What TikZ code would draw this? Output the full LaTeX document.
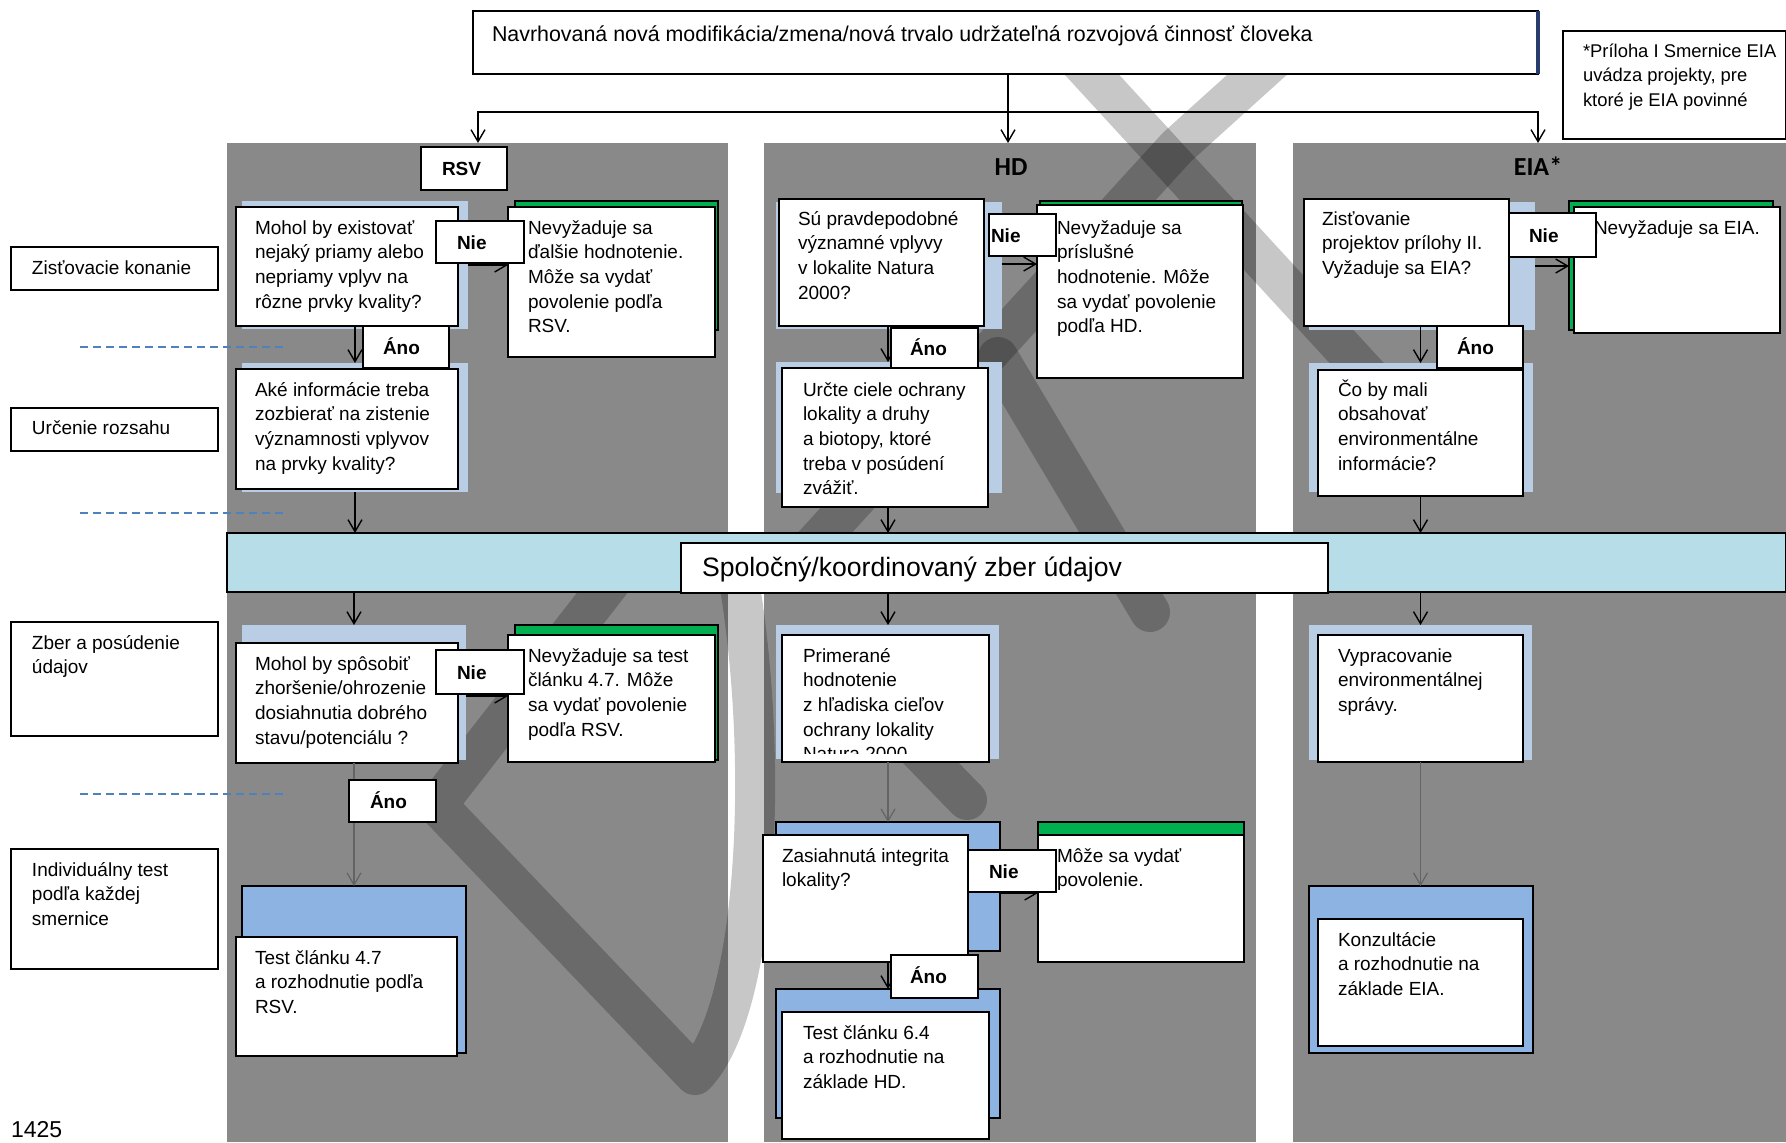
\documentclass[tikz,border=0pt]{standalone}
\usepackage{fontspec}
\setmainfont{Liberation Sans}
\newfontfamily\headfont{Carlito}
\usetikzlibrary{arrows.meta,fit,calc}

\definecolor{panelgray}{RGB}{137,137,137}
\definecolor{paleblue}{RGB}{185,205,229}
\definecolor{midblue}{RGB}{141,179,226}
\definecolor{okgreen}{RGB}{0,176,80}
\definecolor{bandcyan}{RGB}{183,222,232}
\definecolor{guideblue}{RGB}{79,129,189}
\definecolor{flowgray}{RGB}{100,100,100}
\definecolor{edgeblue}{RGB}{40,60,110}

% multi-line text whose baseline is the first line
\newcommand\lines[1]{\begin{tabular}[t]{@{}l@{}}#1\end{tabular}}
% rectangle spanning two corners (pixel units)
\newcommand\area[4]{\node[#1, fit={#3 #4}] (#2) {};}

\begin{document}
\begin{tikzpicture}[x=0.5pt,y=-0.5pt,
  every node/.style={inner sep=0pt, outer sep=0pt},
  panel/.style={rectangle, fill=panelgray, draw=none},
  wbox/.style={rectangle, fill=white, draw=black, line width=1pt},
  palebg/.style={rectangle, fill=paleblue, draw=none},
  bluebg/.style={rectangle, fill=midblue, draw=black, line width=1.4pt},
  greenbg/.style={rectangle, fill=okgreen, draw=black, line width=1pt},
  bandbox/.style={rectangle, fill=bandcyan, draw=black, line width=1pt},
  txt/.style={font=\fontsize{9.5}{12.35}\selectfont},
  btxt/.style={font=\bfseries\fontsize{9.5}{12.35}\selectfont},
  htxt/.style={font=\headfont\bfseries\fontsize{13}{15}\selectfont},
  arr/.style={draw=black, line width=0.7pt, -{Straight Barb[length=6pt,width=7pt]}},
  garr/.style={draw=flowgray, line width=0.6pt, -{Straight Barb[length=6pt,width=7pt]}},
  guide/.style={draw=guideblue, line width=0.9pt, dash pattern=on 4pt off 2.5pt},
  stampline/.style={draw=black, draw opacity=0.22, line width=20pt, line cap=round, line join=round}
]
\useasboundingbox (0,0) rectangle (1786,1142);
\fill[white] (0,0) rectangle (1786,1142);

% ---- directive columns ----
\area{panel}{prsv}{(227,143)}{(728,1142)}
\area{panel}{phd}{(764,143)}{(1256,1142)}
\area{panel}{peia}{(1293,143)}{(1786,1142)}

% ---- translucent watermark strokes behind the flow ----
\draw[stampline] (620,570) -- (437,805) -- (695,1075)
  .. controls (758,1010) and (770,760) .. (738,575);
\draw[stampline] (1060,40) -- (1386,395);
\draw[stampline] (1290,45) -- (1177,147) -- (800,560);
\draw[stampline] (998,357) -- (1150,612);
\draw[stampline] (850,680) -- (967,800);

% ---- shared data collection band ----
\area{bandbox}{band}{(227,533)}{(1786,592)}
\area{wbox}{bandlbl}{(681,543)}{(1328,593)}
\node[anchor=base west, font=\fontsize{13.3}{16}\selectfont] (bandlbl-t) at (702,576) {Spoločný/koordinovaný zber údajov};

% ---- proposal box ----
\area{wbox}{title}{(473,11)}{(1538,74)}
\draw[edgeblue, line width=1.6pt] (title.north east) -- (title.south east);
\node[anchor=base west, font=\fontsize{10.7}{13}\selectfont] (title-t) at (492,41) {Navrhovaná nová modifikácia/zmena/nová trvalo udržateľná rozvojová činnosť človeka};

% ---- footnote ----
\area{wbox}{note}{(1563,31)}{(1786,139)}
\node[anchor=base west, font=\fontsize{9.2}{12.35}\selectfont] (note-t) at (1583,57) {\lines{*Príloha I Smernice EIA\\uvádza projekty, pre\\ktoré je EIA povinné}};

% ---- stage labels on the left ----
\area{wbox}{st1}{(11,247)}{(218,290)}
\node[txt, anchor=base west] (st1-t) at (32,274) {Zisťovacie konanie};
\area{wbox}{st2}{(11,408)}{(218,451)}
\node[txt, anchor=base west] (st2-t) at (32,434) {Určenie rozsahu};
\area{wbox}{st3}{(11,622)}{(218,736)}
\node[txt, anchor=base west] (st3-t) at (32,649) {\lines{Zber a posúdenie\\údajov}};
\area{wbox}{st4}{(11,849)}{(218,969)}
\node[txt, anchor=base west] (st4-t) at (32,876) {\lines{Individuálny test\\podľa každej\\smernice}};

\draw[guide] (80,347) -- (285,347);
\draw[guide] (80,513) -- (285,513);
\draw[guide] (80,794) -- (285,794);

\node[anchor=base west, font=\fontsize{11.5}{14}\selectfont] (pageno) at (11,1137) {1425};

% ---- column headings ----
\area{wbox}{rsv}{(421,147)}{(507,190)}
\node[btxt, anchor=base west] (rsv-t) at (442,175) {RSV};
\node[htxt, anchor=base] (hd-t) at (1011,175) {HD};
\node[htxt, anchor=base] (eia-t) at (1538,175) {EIA*};

% ---- backing rectangles ----
\area{palebg}{b1bg}{(242,201)}{(468,329)}
\area{palebg}{b3bg}{(242,363)}{(468,492)}
\area{palebg}{b4bg}{(242,625)}{(466,760)}
\area{palebg}{b7bg}{(776,202)}{(1002,329)}
\area{palebg}{b9bg}{(776,362)}{(1002,493)}
\area{palebg}{b10bg}{(776,625)}{(999,759)}
\area{palebg}{b14bg}{(1309,202)}{(1535,330)}
\area{palebg}{b16bg}{(1309,363)}{(1533,492)}
\area{palebg}{b17bg}{(1309,625)}{(1532,760)}
\area{greenbg}{b2bg}{(515,201)}{(718,330)}
\area{greenbg}{b5bg}{(515,625)}{(718,760)}
\area{greenbg}{b8bg}{(1040,201)}{(1242,330)}
\area{greenbg}{b12bg}{(1038,822)}{(1244,842)}
\area{greenbg}{b15bg}{(1569,201)}{(1773,330)}
\area{bluebg}{b6bg}{(242,886)}{(466,1053)}
\area{bluebg}{b11bg}{(776,822)}{(1000,951)}
\area{bluebg}{b13bg}{(776,989)}{(1000,1118)}
\area{bluebg}{b18bg}{(1309,886)}{(1533,1053)}

% ---- RSV column ----
\area{wbox}{b1}{(236,207)}{(458,326)}
\node[txt, anchor=base west] (b1-t) at (255,234) {\lines{Mohol by existovať\\nejaký priamy alebo\\nepriamy vplyv na\\rôzne prvky kvality?}};
\area{wbox}{b2}{(508,207)}{(715,357)}
\node[txt, anchor=base west] (b2-t) at (528,234) {\lines{Nevyžaduje sa\\ďalšie hodnotenie.\\Môže sa vydať\\povolenie podľa\\RSV.}};
\area{wbox}{b3}{(236,369)}{(458,489)}
\node[txt, anchor=base west] (b3-t) at (255,396) {\lines{Aké informácie treba\\zozbierať na zistenie\\významnosti vplyvov\\na prvky kvality?}};
\area{wbox}{b4}{(236,643)}{(458,763)}
\node[txt, anchor=base west] (b4-t) at (255,670) {\lines{Mohol by spôsobiť\\zhoršenie/ohrozenie\\dosiahnutia dobrého\\stavu/potenciálu ?}};
\area{wbox}{b5}{(508,635)}{(715,762)}
\node[txt, anchor=base west] (b5-t) at (528,662) {\lines{Nevyžaduje sa test\\článku 4.7. Môže\\sa vydať povolenie\\podľa RSV.}};
\area{wbox}{b6}{(236,937)}{(457,1056)}
\node[txt, anchor=base west] (b6-t) at (255,964) {\lines{Test článku 4.7\\a rozhodnutie podľa\\RSV.}};

% ---- HD column ----
\area{wbox}{b7}{(779,199)}{(984,326)}
\node[txt, anchor=base west] (b7-t) at (798,225) {\lines{Sú pravdepodobné\\významné vplyvy\\v lokalite Natura\\2000?}};
\area{wbox}{b8}{(1037,205)}{(1243,378)}
\node[txt, anchor=base west] (b8-t) at (1057,234) {\lines{Nevyžaduje sa\\príslušné\\hodnotenie. Môže\\sa vydať povolenie\\podľa HD.}};
\area{wbox}{b9}{(782,368)}{(988,507)}
\node[txt, anchor=base west] (b9-t) at (803,396) {\lines{Určte ciele ochrany\\lokality a druhy\\a biotopy, ktoré\\treba v posúdení\\zvážiť.}};
\area{wbox}{b10}{(782,635)}{(989,762)}
\begin{scope}
  \clip (782,636) rectangle (989,753);
  \node[txt, anchor=base west] (b10-t) at (803,662) {\lines{Primerané\\hodnotenie\\z hľadiska cieľov\\ochrany lokality\\Natura 2000}};
\end{scope}
\area{wbox}{b11}{(763,835)}{(968,962)}
\node[txt, anchor=base west] (b11-t) at (782,862) {\lines{Zasiahnutá integrita\\lokality?}};
\area{wbox}{b12}{(1038,835)}{(1244,962)}
\node[txt, anchor=base west] (b12-t) at (1057,862) {\lines{Môže sa vydať\\povolenie.}};
\area{wbox}{b13}{(782,1012)}{(989,1139)}
\node[txt, anchor=base west] (b13-t) at (803,1039) {\lines{Test článku 6.4\\a rozhodnutie na\\základe HD.}};

% ---- EIA column ----
\area{wbox}{b14}{(1304,199)}{(1509,326)}
\node[txt, anchor=base west] (b14-t) at (1322,225) {\lines{Zisťovanie\\projektov prílohy II.\\Vyžaduje sa EIA?}};
\area{wbox}{b15}{(1574,207)}{(1780,333)}
\node[txt, anchor=base west] (b15-t) at (1594,234) {Nevyžaduje sa EIA.};
\area{wbox}{b16}{(1318,370)}{(1523,496)}
\node[txt, anchor=base west] (b16-t) at (1338,396) {\lines{Čo by mali\\obsahovať\\environmentálne\\informácie?}};
\area{wbox}{b17}{(1318,635)}{(1523,762)}
\node[txt, anchor=base west] (b17-t) at (1338,662) {\lines{Vypracovanie\\environmentálnej\\správy.}};
\area{wbox}{b18}{(1318,919)}{(1523,1046)}
\node[txt, anchor=base west] (b18-t) at (1338,946) {\lines{Konzultácie\\a rozhodnutie na\\základe EIA.}};

% ---- connector anchors ----
\coordinate (fork) at (1008,112);
\coordinate (rsvin) at (478,143);
\coordinate (eiain) at (1538,143);
\coordinate (hdx) at (888,0);

% ---- connectors ----
\draw[arr] (title.south -| fork) -- (fork |- phd.north);
\draw[arr] (fork) -| (rsvin);
\draw[arr] (fork) -| (eiain);

% RSV
\draw[arr] (b1bg.east |- 0,265) -- (b2.west |- 0,265);
\draw[arr] (b3bg.north |- b1.south) -- (b3bg.north);
\draw[arr] (b3bg.south) -- (b3bg.south |- band.north);
\draw[arr] (band.south -| b4bg.north) -- (b4bg.north);
\draw[arr] (b4bg.east |- 0,696) -- (b5.west |- 0,696);
\draw[garr] (b6bg.north |- b4.south) -- (b6bg.north);
% HD
\draw[arr] (b7bg.east |- 0,264) -- (b8.west |- 0,264);
\draw[arr] (hdx |- b7.south) -- (hdx |- b9bg.north);
\draw[arr] (hdx |- b9.south) -- (hdx |- band.north);
\draw[arr] (hdx |- band.south) -- (hdx |- b10bg.north);
\draw[garr] (hdx |- b10.south) -- (hdx |- b11bg.north);
\draw[arr] (b11bg.east |- 0,893) -- (b12.west |- 0,893);
\draw[arr] (hdx |- b11.south) -- (hdx |- b13bg.north);
% EIA
\draw[arr] (b14bg.east |- 0,266) -- (b15bg.west |- 0,266);
\draw[arr] (b14.south -| b16.north) -- (b16bg.north -| b16.north);
\draw[arr] (b16.south) -- (b16.south |- band.north);
\draw[arr] (band.south -| b17.north) -- (b17bg.north -| b17.north);
\draw[garr] (b17.south) -- (b17.south |- b18bg.north);

% ---- decision labels ----
\area{wbox}{nie1}{(436,221)}{(524,263)}
\node[btxt, anchor=base west] (nie1-t) at (457,249) {Nie};
\area{wbox}{ano1}{(363,326)}{(449,368)}
\node[btxt, anchor=base west] (ano1-t) at (383,354) {Áno};
\area{wbox}{nie2}{(436,650)}{(524,694)}
\node[btxt, anchor=base west] (nie2-t) at (457,679) {Nie};
\area{wbox}{ano2}{(349,780)}{(436,822)}
\node[btxt, anchor=base west] (ano2-t) at (370,808) {Áno};
\area{wbox}{nie3}{(989,214)}{(1056,256)}
\node[btxt, anchor=base west] (nie3-t) at (991,242) {Nie};
\area{wbox}{ano3}{(891,328)}{(978,368)}
\node[btxt, anchor=base west] (ano3-t) at (910,355) {Áno};
\area{wbox}{nie4}{(968,850)}{(1056,892)}
\node[btxt, anchor=base west] (nie4-t) at (989,878) {Nie};
\area{wbox}{ano4}{(891,955)}{(978,998)}
\node[btxt, anchor=base west] (ano4-t) at (910,983) {Áno};
\area{wbox}{nie5}{(1509,213)}{(1596,257)}
\node[btxt, anchor=base west] (nie5-t) at (1529,242) {Nie};
\area{wbox}{ano5}{(1437,326)}{(1523,368)}
\node[btxt, anchor=base west] (ano5-t) at (1457,354) {Áno};
\end{tikzpicture}
\end{document}
